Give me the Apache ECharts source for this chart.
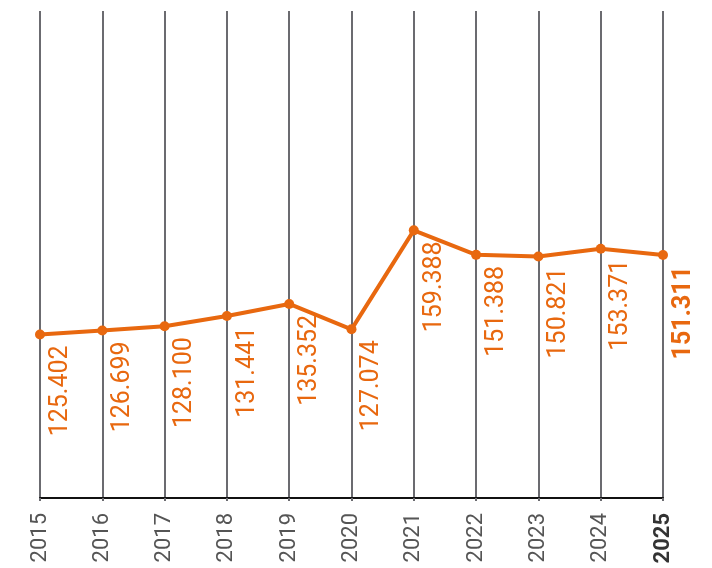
<!DOCTYPE html>
<html>
<head>
<meta charset="utf-8">
<script src="https://cdn.jsdelivr.net/npm/echarts@6/dist/echarts.min.js"></script>
<style>
  html, body { margin: 0; padding: 0; background: #fff; }
  #chart { width: 712px; height: 568px; }
</style>
</head>
<body>
<div id="chart"></div>
<script>
// jaren en waarden
const years = ['2015', '2016', '2017', '2018', '2019', '2020', '2021', '2022', '2023', '2024', '2025']
const values = [125.402, 126.699, 128.100, 131.441, 135.352, 127.074, 159.388, 151.388, 150.821, 153.371, 151.311]

const orange = '#e8680f'
const lastIdx = years.length - 1

const chart = echarts.init(document.getElementById('chart'))

chart.setOption({
  animation: false,
  grid: {
    top: 11,
    left: 40,
    right: 49,
    bottom: 70
  },
  xAxis: {
    type: 'category',
    data: years,
    boundaryGap: false,
    axisLine: { lineStyle: { color: '#111', width: 2 } },
    axisTick: { show: true, length: 3, lineStyle: { color: '#6b6b70', width: 2 } },
    splitLine: { show: true, lineStyle: { color: '#6b6b70', width: 2 } },
    axisLabel: {
      rotate: 90,
      margin: 15,
      fontFamily: 'Roboto',
      fontSize: 22,
      color: '#555',
      formatter: function (v, i) {
        return i === lastIdx ? '{b|' + v + '}' : v
      },
      rich: {
        b: { fontFamily: 'Roboto', fontSize: 22, fontWeight: 'bold', color: '#333' }
      }
    }
  },
  yAxis: {
    type: 'value',
    min: 72,
    max: 231,
    show: false,
    splitLine: { show: false }
  },
  series: [{
    type: 'line',
    data: values.map((v, i) => i === lastIdx
      ? { value: v, label: { fontWeight: 'bold' } }
      : v),
    symbol: 'circle',
    symbolSize: 10,
    itemStyle: { color: orange },
    lineStyle: { color: orange, width: 4 },
    label: {
      show: true,
      position: 'bottom',
      distance: 6,
      rotate: 90,
      align: 'right',
      verticalAlign: 'top',
      padding: [8, 0, 0, 0],
      fontFamily: 'Roboto',
      fontSize: 25,
      color: orange,
      formatter: p => p.value.toFixed(3)
    }
  }]
})
</script>
</body>
</html>
